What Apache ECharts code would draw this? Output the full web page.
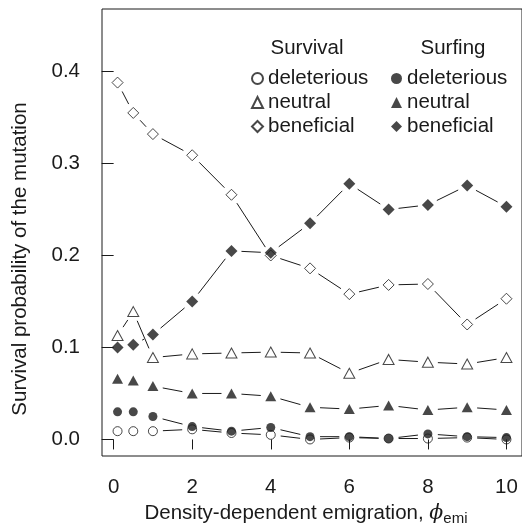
<!DOCTYPE html>
<html>
<head>
<meta charset="utf-8">
<script src="https://cdn.jsdelivr.net/npm/echarts@6/dist/echarts.min.js"></script>
<style>
  html, body { margin: 0; padding: 0; background: #fff; }
  #chart { width: 522px; height: 531px; }
</style>
</head>
<body>
<div id="chart"></div>
<script>
// emigration parameter (x) values
const phi = [0.1, 0.5, 1, 2, 3, 4, 5, 6, 7, 8, 9, 10]

// survival probabilities
const survDel = [0.009, 0.009, 0.009, 0.011, 0.007, 0.005, 0.000, 0.002, 0.001, 0.001, 0.002, 0.000]
const survNeu = [0.113, 0.139, 0.089, 0.093, 0.094, 0.095, 0.094, 0.072, 0.087, 0.084, 0.082, 0.089]
const survBen = [0.388, 0.355, 0.332, 0.309, 0.266, 0.200, 0.186, 0.158, 0.168, 0.169, 0.125, 0.153]

// surfing probabilities
const surfDel = [0.030, 0.030, 0.025, 0.014, 0.009, 0.013, 0.003, 0.003, 0.001, 0.006, 0.003, 0.002]
const surfNeu = [0.066, 0.064, 0.058, 0.050, 0.050, 0.047, 0.035, 0.033, 0.037, 0.032, 0.035, 0.032]
const surfBen = [0.100, 0.103, 0.114, 0.150, 0.205, 0.203, 0.235, 0.278, 0.250, 0.255, 0.276, 0.253]

const xTicks = [0, 2, 4, 6, 8, 10]
const yTicks = [0, 0.1, 0.2, 0.3, 0.4]

const FONT = '"Liberation Sans", Arial, Helvetica, sans-serif'
const FS = 20.5
const INK = '#1a1a1a'
const GAP = 10 // R type="b" style gap around points

const SERIES = [
  { name: 'Survival deleterious', data: survDel, symbol: 'circle', size: 9, filled: false },
  { name: 'Survival neutral', data: survNeu, symbol: 'triangle', size: [11, 10], filled: false },
  { name: 'Survival beneficial', data: survBen, symbol: 'diamond', size: [11, 11], filled: false },
  { name: 'Surfing deleterious', data: surfDel, symbol: 'circle', size: 9, filled: true },
  { name: 'Surfing neutral', data: surfNeu, symbol: 'triangle', size: [11, 10], filled: true },
  { name: 'Surfing beneficial', data: surfBen, symbol: 'diamond', size: [12, 12], filled: true },
]

function segments(ys) {
  const out = []
  for (let i = 0; i < phi.length - 1; i++) out.push([phi[i], ys[i], phi[i + 1], ys[i + 1]])
  return out
}

function renderSeg(params, api) {
  const p0 = api.coord([api.value(0), api.value(1)])
  const p1 = api.coord([api.value(2), api.value(3)])
  const dx = p1[0] - p0[0], dy = p1[1] - p0[1]
  const len = Math.hypot(dx, dy)
  if (len <= 2 * GAP + 1) return null
  const ux = dx / len, uy = dy / len
  return {
    type: 'line',
    shape: { x1: p0[0] + ux * GAP, y1: p0[1] + uy * GAP, x2: p1[0] - ux * GAP, y2: p1[1] - uy * GAP },
    style: { stroke: INK, lineWidth: 1 },
  }
}

const lineSeries = SERIES.map((s) => ({
  type: 'custom',
  name: s.name + ' line',
  renderItem: renderSeg,
  encode: { x: [0, 2], y: [1, 3] },
  data: segments(s.data),
  silent: true,
  z: 2,
}))

const pointSeries = SERIES.map((s) => ({
  type: 'scatter',
  name: s.name,
  symbol: s.symbol,
  symbolSize: s.size,
  data: phi.map((x, i) => [x, s.data[i]]),
  itemStyle: s.filled
    ? { color: INK, borderWidth: 0 }
    : { color: 'rgba(255,255,255,0)', borderColor: INK, borderWidth: 1 },
  z: s.filled ? 4 : 3,
}))

const legendBase = {
  orient: 'vertical',
  top: 68,
  padding: 0,
  itemWidth: 11,
  itemHeight: 11,
  itemGap: 3,
  selectedMode: false,
  formatter: (n) => n.split(' ')[1],
  textStyle: { fontFamily: FONT, fontSize: FS, color: INK },
}

const chart = echarts.init(document.getElementById('chart'), null, { renderer: 'canvas' })
chart.setOption({
  backgroundColor: '#fff',
  animation: false,
  grid: { left: 102, top: 9, right: -3, bottom: 75, show: true, borderColor: INK, borderWidth: 1, backgroundColor: 'transparent' },
  xAxis: {
    type: 'value',
    min: -0.296,
    max: 10.396,
    axisLine: { show: false },
    splitLine: { show: false },
    axisTick: { customValues: xTicks, length: 10, lineStyle: { color: INK } },
    axisLabel: { customValues: xTicks, margin: 21, fontFamily: FONT, fontSize: FS, color: INK },
    name: 'Density-dependent emigration, {phi|ϕ}{sub|emi}',
    nameLocation: 'middle',
    nameGap: 42,
    nameTextStyle: {
      fontFamily: FONT, fontSize: FS, color: INK, padding: [0, 12, 0, 0],
      rich: {
        phi: { fontFamily: '"DejaVu Serif", serif', fontStyle: 'italic', fontSize: FS, color: INK },
        sub: { fontFamily: FONT, fontSize: 15, color: INK, padding: [10, 0, 0, 0] },
      },
    },
  },
  yAxis: {
    type: 'value',
    min: -0.018,
    max: 0.468,
    axisLine: { show: false },
    splitLine: { show: false },
    axisTick: { customValues: yTicks, length: 12, lineStyle: { color: INK } },
    axisLabel: {
      customValues: yTicks, margin: 22, fontFamily: FONT, fontSize: FS, color: INK,
      formatter: (v) => v.toFixed(1),
    },
  },
  legend: [
    Object.assign({}, legendBase, { left: 251, data: SERIES.slice(0, 3).map((s) => s.name) }),
    Object.assign({}, legendBase, { left: 391, data: SERIES.slice(3).map((s) => s.name) }),
  ],
  graphic: [
    { type: 'text', x: 307, y: 48, style: { text: 'Survival', font: FS + 'px ' + FONT, fill: INK, align: 'center', verticalAlign: 'middle' } },
    { type: 'text', x: 453, y: 48, style: { text: 'Surfing', font: FS + 'px ' + FONT, fill: INK, align: 'center', verticalAlign: 'middle' } },
    {
      type: 'text', x: 20, y: 259, rotation: Math.PI / 2,
      style: { text: 'Survival probability of the mutation', font: FS + 'px ' + FONT, fill: INK, align: 'center', verticalAlign: 'middle' },
    },
  ],
  series: [...lineSeries, ...pointSeries],
})
</script>
</body>
</html>
